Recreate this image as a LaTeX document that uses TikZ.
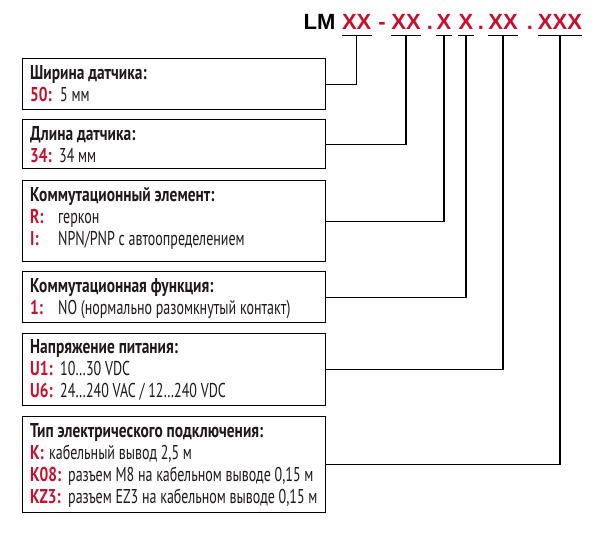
\documentclass[tikz,border=0pt]{standalone}
\usepackage{fontspec}
\setmainfont[FakeStretch=0.70, BoldFeatures={FakeStretch=0.77}]{PT Sans}
\newfontfamily\titlefont{Liberation Sans}
\definecolor{lmred}{RGB}{200,16,46}
\definecolor{lmtext}{RGB}{30,26,27}
\newcommand\lab[2]{\makebox[#2pt][l]{\textcolor{lmred}{\bfseries #1}}}
\begin{document}
\begin{tikzpicture}[x=1pt,y=-1pt,
  box/.style={draw=black, line width=1.4pt, anchor=north west, minimum width=303pt, inner sep=0pt, rectangle},
  txt/.style={anchor=base west, inner sep=0pt, text=lmtext, font=\fontsize{20}{22}\selectfont},
  con/.style={draw=black, line width=1.4pt},
  uline/.style={draw=black, line width=1.3pt},
  code/.style={anchor=base, inner sep=0pt, font=\titlefont\bfseries\fontsize{22}{22}\selectfont, text=lmred}]
\useasboundingbox (0,0) rectangle (597,536);
% title code
\node[code, text=black] (g0) at (319.5,29) {LM};
\node[code] (g1) at (356.7,29) {XX};
\node[code] (s1) at (382,29) {-};
\node[code] (g2) at (406,29) {XX};
\node[code] (s2) at (430,29) {.};
\node[code] (g3) at (444,29) {X};
\node[code] (g4) at (466,29) {X};
\node[code] (s3) at (481,29) {.};
\node[code] (g5) at (503,29) {XX};
\node[code] (s4) at (530,29) {.};
\node[code] (g6) at (560,29) {XXX};
\foreach \g in {g1,g2,g3,g4,g5,g6}{
  \draw[uline] ([yshift=-6pt]\g.south west) -- ([yshift=-6pt]\g.south east);
  \coordinate (u\g) at ([yshift=-6pt]\g.south);
}
% boxes
\node[box, minimum height=51pt] (b1) at (22,58) {};
\node[box, minimum height=49pt] (b2) at (22,119) {};
\node[box, minimum height=81pt] (b3) at (22,180) {};
\node[box, minimum height=51pt] (b4) at (22,271) {};
\node[box, minimum height=72pt] (b5) at (22,333) {};
\node[box, minimum height=96pt] (b6) at (22,416) {};
% texts
\node[txt] (t1) at (30,79) {\begin{tabular}[t]{@{}l@{}}\textbf{Ширина датчика:}\\ \lab{50:}{30}5 мм\end{tabular}};
\node[txt] (t2) at (30,140) {\begin{tabular}[t]{@{}l@{}}\textbf{Длина датчика:}\\ \lab{34:}{29}34 мм\end{tabular}};
\node[txt] (t3) at (30,201) {\begin{tabular}[t]{@{}l@{}}\textbf{Коммутационный элемент:}\\ \lab{R:}{28}геркон\\ \lab{I:}{28}NPN/PNP с автоопределением\end{tabular}};
\node[txt] (t4) at (30,292) {\begin{tabular}[t]{@{}l@{}}\textbf{Коммутационная функция:}\\ \lab{1:}{28}NO (нормально разомкнутый контакт)\end{tabular}};
\node[txt] (t5) at (30,353) {\begin{tabular}[t]{@{}l@{}}\textbf{Напряжение питания:}\\ \lab{U1:}{30}10…30 VDC\\ \lab{U6:}{30}24…240 VAC / 12…240 VDC\end{tabular}};
\node[txt] (t6) at (30,437) {\begin{tabular}[t]{@{}l@{}}\textbf{Тип электрического подключения:}\\ \lab{K:}{19}кабельный вывод 2,5 м\\ \lab{K08:}{38}разъем M8 на кабельном выводе 0,15 м\\ \lab{KZ3:}{38}разъем EZ3 на кабельном выводе 0,15 м\end{tabular}};
% connectors
\draw[con] (ug1) |- (b1.east);
\draw[con] (ug2) |- (b2.east);
\draw[con] (ug3) |- (b3.east);
\draw[con] (ug4) |- (b4.east);
\draw[con] (ug5) |- (b5.east);
\draw[con] (ug6) |- (b6.east);
\end{tikzpicture}
\end{document}
